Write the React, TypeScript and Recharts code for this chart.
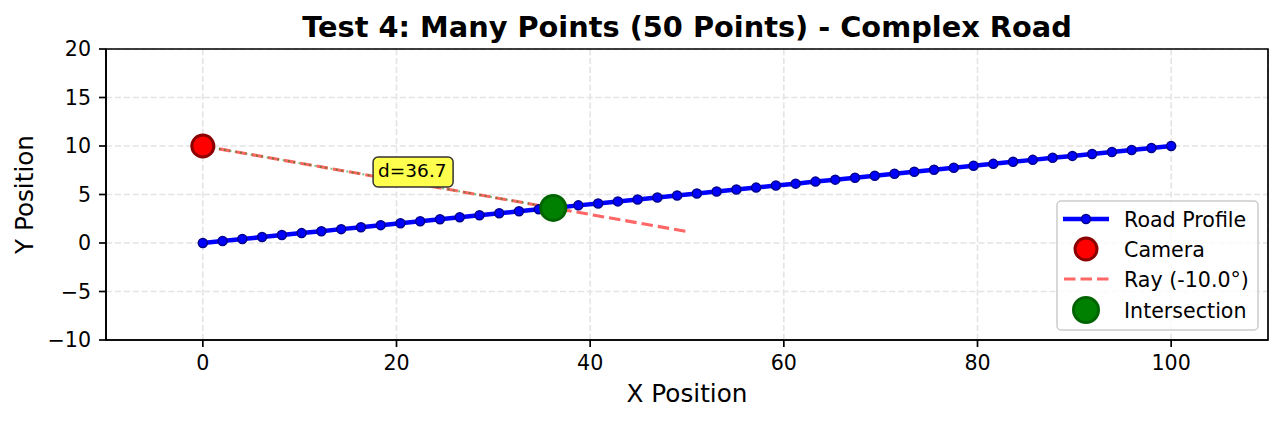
import {
  ComposedChart,
  Line,
  Scatter,
  XAxis,
  YAxis,
  CartesianGrid,
  ReferenceArea,
} from "recharts";

// road profile, 50 samples
const roadX = [
  0, 2.04, 4.08, 6.12, 8.16, 10.2, 12.24, 14.29, 16.33, 18.37, 20.41, 22.45,
  24.49, 26.53, 28.57, 30.61, 32.65, 34.69, 36.73, 38.78, 40.82, 42.86, 44.9,
  46.94, 48.98, 51.02, 53.06, 55.1, 57.14, 59.18, 61.22, 63.27, 65.31, 67.35,
  69.39, 71.43, 73.47, 75.51, 77.55, 79.59, 81.63, 83.67, 85.71, 87.76, 89.8,
  91.84, 93.88, 95.92, 97.96, 100,
];
const roadY = [
  0, 0.2, 0.41, 0.61, 0.82, 1.02, 1.22, 1.43, 1.63, 1.84, 2.04, 2.24, 2.45,
  2.65, 2.86, 3.06, 3.27, 3.47, 3.67, 3.88, 4.08, 4.29, 4.49, 4.69, 4.9, 5.1,
  5.31, 5.51, 5.71, 5.92, 6.12, 6.33, 6.53, 6.73, 6.94, 7.14, 7.35, 7.55, 7.76,
  7.96, 8.16, 8.37, 8.57, 8.78, 8.98, 9.18, 9.39, 9.59, 9.8, 10,
];

const camera = [{ x: 0, y: 10 }];
const rayPoints = [
  { x: 0, y: 10 },
  { x: 50, y: 1.18 },
];
const intersection = [{ x: 36.19, y: 3.62 }];
const distancePoints = [
  { x: 0, y: 10 },
  { x: 36.19, y: 3.62 },
];
const annotation = [{ x: 18.1, y: 6.81, text: "d=36.7" }];

const xTicks = [0, 20, 40, 60, 80, 100];
const yTicks = [-10, -5, 0, 5, 10, 15, 20];

const roadData = roadX.map((x, i) => ({ x, y: roadY[i] }));

const FONT = "'DejaVu Sans', sans-serif";
const fmt = (v: number) => String(v).replace("-", "\u2212");

const CameraDot = (p: any) => (
  <circle cx={p.cx} cy={p.cy} r={11} fill="red" stroke="#8b0000" strokeWidth={3} />
);
const HitDot = (p: any) => (
  <circle cx={p.cx} cy={p.cy} r={12.5} fill="#008000" stroke="#006400" strokeWidth={3} />
);
const NoteBox = (p: any) => (
  <g>
    <rect
      x={p.cx - 5}
      y={p.cy - 20}
      width={80}
      height={30}
      rx={5}
      fill="#ffff4d"
      stroke="#333"
      strokeWidth={1.5}
    />
    <text x={p.cx} y={p.cy} fontSize={18.5} fill="#000" fontFamily={FONT}>
      {p.payload.text}
    </text>
  </g>
);

const legendRows = [
  { label: "Road Profile", y: 219 },
  { label: "Camera", y: 249 },
  { label: "Ray (-10.0°)", y: 279 },
  { label: "Intersection", y: 310 },
];

export default function App() {
  return (
    <div
      style={{
        position: "absolute",
        left: 0,
        top: 0,
        width: 1283,
        height: 422,
        background: "#fff",
        fontFamily: FONT,
      }}
    >
      <ComposedChart
        width={1283}
        height={422}
        margin={{ top: 49, right: 15, left: 0, bottom: 0 }}
      >
        <CartesianGrid stroke="#e4e4e4" strokeWidth={1.6} strokeDasharray="6.2 2.7" />
        <XAxis
          type="number"
          dataKey="x"
          domain={[-10, 110]}
          ticks={xTicks}
          allowDataOverflow
          height={82}
          tickSize={7}
          tickMargin={8}
          tickFormatter={fmt}
          axisLine={{ stroke: "#000", strokeWidth: 1.7 }}
          tickLine={{ stroke: "#000", strokeWidth: 1.7 }}
          tick={{ fontSize: 20.6, fill: "#000", fontFamily: FONT }}
        />
        <YAxis
          type="number"
          dataKey="y"
          domain={[-10, 20]}
          ticks={yTicks}
          allowDataOverflow
          width={106}
          tickSize={7}
          tickMargin={8}
          tickFormatter={fmt}
          axisLine={{ stroke: "#000", strokeWidth: 1.7 }}
          tickLine={{ stroke: "#000", strokeWidth: 1.7 }}
          tick={{ fontSize: 20.6, fill: "#000", fontFamily: FONT }}
        />
        <Line
          data={roadData}
          dataKey="y"
          stroke="blue"
          strokeWidth={4.5}
          dot={{ r: 4.5, fill: "blue", stroke: "#00008b", strokeWidth: 1.5 }}
          activeDot={false}
          isAnimationActive={false}
        />
        <Scatter data={camera} shape={CameraDot} isAnimationActive={false} />
        <Line
          data={rayPoints}
          dataKey="y"
          stroke="#ff6666"
          strokeWidth={3.1}
          strokeDasharray="11.5 5"
          dot={false}
          activeDot={false}
          isAnimationActive={false}
        />
        <Line
          data={distancePoints}
          dataKey="y"
          stroke="#008000"
          strokeOpacity={0.5}
          strokeWidth={2}
          strokeDasharray="2 3.4"
          dot={false}
          activeDot={false}
          isAnimationActive={false}
        />
        <Scatter data={intersection} shape={HitDot} isAnimationActive={false} />
        <Scatter data={annotation} shape={NoteBox} isAnimationActive={false} />
        <ReferenceArea
          x1={-10}
          x2={110}
          y1={-10}
          y2={20}
          fill="none"
          stroke="#000"
          strokeWidth={1.7}
        />
      </ComposedChart>

      <svg
        width={1283}
        height={422}
        style={{ position: "absolute", left: 0, top: 0, pointerEvents: "none" }}
      >
        <text
          x={687}
          y={37}
          textAnchor="middle"
          fontSize={28.8}
          fontWeight="bold"
          fontFamily={FONT}
          fill="#000"
        >
          Test 4: Many Points (50 Points) - Complex Road
        </text>
        <text x={687} y={402} textAnchor="middle" fontSize={24.7} fontFamily={FONT} fill="#000">
          X Position
        </text>
        <text
          x={33}
          y={194.5}
          textAnchor="middle"
          fontSize={24.7}
          fontFamily={FONT}
          fill="#000"
          transform="rotate(-90 33 194.5)"
        >
          Y Position
        </text>

        {/* legend */}
        <rect
          x={1057}
          y={201}
          width={201}
          height={129}
          rx={4}
          fill="#fff"
          fillOpacity={0.8}
          stroke="#ccc"
          strokeWidth={1.5}
        />
        <line x1={1063} x2={1109} y1={219} y2={219} stroke="blue" strokeWidth={4.5} />
        <circle cx={1086} cy={219} r={4.5} fill="blue" stroke="#00008b" strokeWidth={1.5} />
        <circle cx={1086} cy={249} r={11} fill="red" stroke="#8b0000" strokeWidth={3} />
        <line
          x1={1064}
          x2={1109}
          y1={279}
          y2={279}
          stroke="#ff6666"
          strokeWidth={3.1}
          strokeDasharray="11.5 5"
        />
        <circle cx={1086} cy={310} r={12.5} fill="#008000" stroke="#006400" strokeWidth={3} />
        {legendRows.map((r) => (
          <text key={r.label} x={1124} y={r.y + 7.5} fontSize={20.6} fontFamily={FONT} fill="#000">
            {r.label}
          </text>
        ))}
      </svg>
    </div>
  );
}
